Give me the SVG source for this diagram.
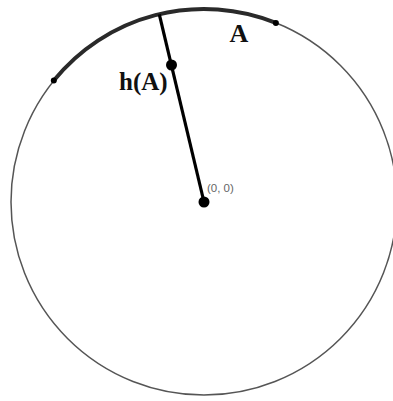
<svg xmlns="http://www.w3.org/2000/svg" width="393" height="401" viewBox="0 0 393 401">
<style>
.circle{fill:none;stroke:#555;stroke-width:1.5}
.arc{fill:none;stroke:#2a2a2a;stroke-width:4}
.edge{stroke:#000;stroke-width:3.2}
.pt{fill:#000}
.lbl{font-family:"Liberation Serif",serif;font-weight:bold;fill:#111}
.coord{font-family:"Liberation Sans",Arial,sans-serif;font-size:11.5px;fill:#666}
</style>
<rect width="393" height="401" fill="#fff"/>
<g id="circle"><circle class="circle" cx="204" cy="202" r="193"/></g>
<g id="arc-A">
<path class="arc" d="M53.8 80.6 A193 193 0 0 1 275.9 22.9"/>
<circle class="pt" cx="53.8" cy="80.6" r="3"/>
<circle class="pt" cx="275.9" cy="22.9" r="3"/>
<text class="lbl" x="229.5" y="41.7" font-size="26">A</text>
</g>
<g id="connectors">
<line class="edge" x1="204" y1="202" x2="159.3" y2="14.3"/>
</g>
<g id="hA">
<circle class="pt" cx="171.5" cy="65" r="5.5"/>
<text class="lbl" x="119" y="90" font-size="25">h(A)</text>
</g>
<g id="origin">
<circle class="pt" cx="204" cy="202" r="5.5"/>
<text class="coord" x="207" y="192">(0, 0)</text>
</g>
</svg>
